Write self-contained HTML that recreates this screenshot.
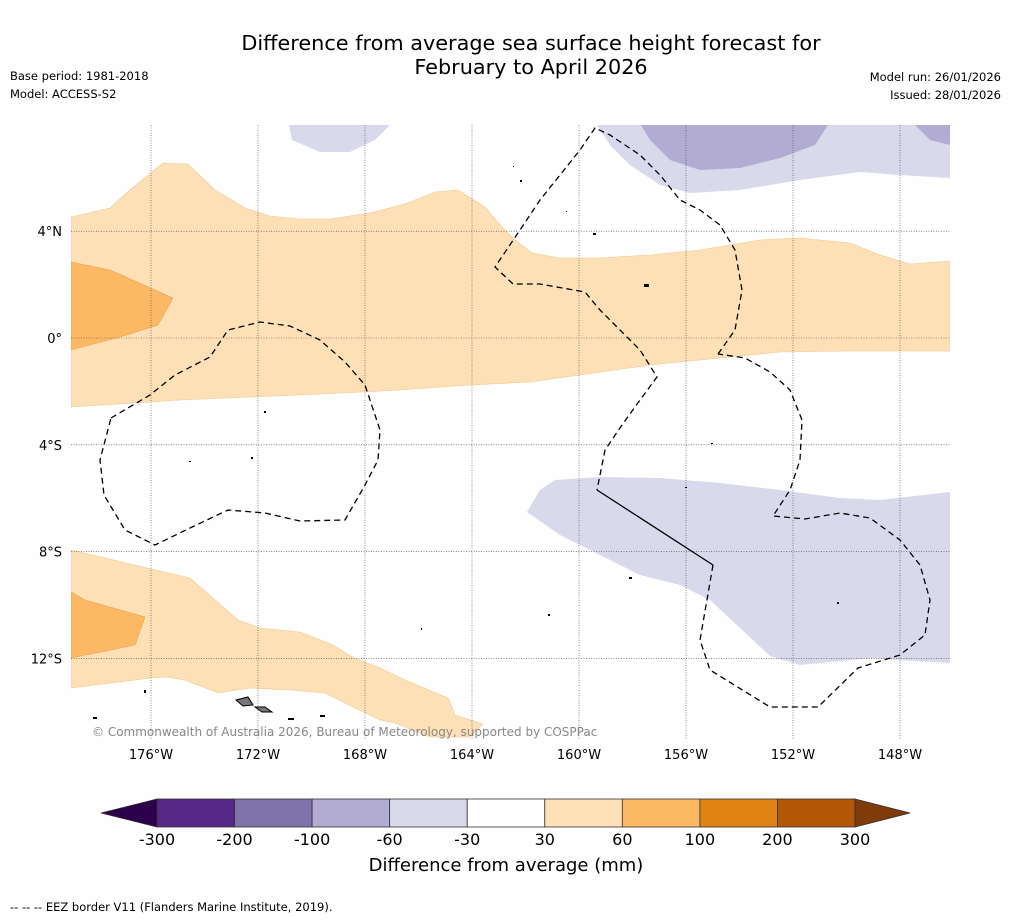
<!DOCTYPE html>
<html><head><meta charset="utf-8">
<style>
html,body{margin:0;padding:0;background:#fff;}
body{width:1011px;height:919px;overflow:hidden;font-family:"Liberation Sans","DejaVu Sans",sans-serif;}
svg text{font-family:"DejaVu Sans","Liberation Sans",sans-serif;}
</style></head>
<body>
<svg id="chart" width="1011" height="919" viewBox="0 0 1011 919" xmlns="http://www.w3.org/2000/svg">
<rect width="1011" height="919" fill="#fefefe"/>
<text x="531" y="50" font-size="20.8" text-anchor="middle" fill="#000">Difference from average sea surface height forecast for</text>
<text x="531" y="74" font-size="20.8" text-anchor="middle" fill="#000">February to April 2026</text>
<text x="10" y="80" font-size="11.5">Base period: 1981-2018</text>
<text x="10" y="98" font-size="11.5">Model: ACCESS-S2</text>
<text x="1001" y="81" font-size="11.5" text-anchor="end">Model run: 26/01/2026</text>
<text x="1001" y="99" font-size="11.5" text-anchor="end">Issued: 28/01/2026</text>

<g>
<clipPath id="mc"><rect x="71" y="125" width="879" height="615"/></clipPath>
<g clip-path="url(#mc)">
<polygon fill="#fee0b6" stroke="#f0c890" stroke-width="0.6" points="71,217 110,208 130,190 163,163 188,164 215,190 245,208 270,216 300,219 330,219 370,213 405,204 435,192 458,190 485,207 500,225 515,240 532,253 560,258 600,258 650,255 700,250 760,240 800,238 850,243 880,255 910,264 950,261 950,351 850,351 780,352 700,360 650,365 580,375 530,382 470,385 400,390 320,394 250,397 180,400 71,407"/>
<polygon fill="#fdb863" stroke="#eaa050" stroke-width="0.6" points="71,262 110,270 173,298 158,325 120,337 71,350"/>
<polygon fill="#fee0b6" stroke="#f0c890" stroke-width="0.6" points="71,550 160,571 190,578 215,600 238,620 260,628 300,632 333,645 354,658 378,667 405,680 448,698 455,715 483,724 470,737 430,737 395,723 380,720 355,708 325,693 290,690 250,688 218,693 185,680 165,677 150,678 71,688"/>
<polygon fill="#fdb863" stroke="#eaa050" stroke-width="0.6" points="71,592 85,600 145,617 135,645 71,658"/>
<polygon fill="#d8daeb" points="527,512 540,490 555,480 600,477 660,478 720,483 780,490 840,498 880,500 950,492 950,663 870,658 800,665 770,656 740,628 710,600 680,585 640,575 590,550 560,535"/>
<polygon fill="#d8daeb" points="289,125 292,140 320,152 350,152 375,140 390,125"/>
<polygon fill="#d8daeb" points="597,125 610,145 630,165 660,185 690,193 740,190 800,180 860,172 900,175 950,178 950,125"/>
<polygon fill="#b2abd2" points="641,125 650,140 670,160 700,170 740,168 780,158 815,145 828,125"/>
<polygon fill="#b2abd2" points="915,125 930,140 950,145 950,125"/>
</g>
<g id="grid" stroke="#444" stroke-width="0.6" stroke-dasharray="1,1.5"></g>
<g fill="none" stroke="#000" stroke-width="1.3" stroke-dasharray="6,4">
<polyline points="718,354 735,330 742,290 735,250 720,225 700,210 680,200 660,175 640,155 610,135 595,128 580,150 560,175 540,200 520,230 495,267 513,284 540,284 585,292 600,310 620,330 640,350 657,377 640,400 622,425 605,450 597,490"/>
<polyline points="713,565 700,640 710,670 770,707 818,707 858,668 900,655 925,635 930,600 920,565 900,540 870,518 840,513 805,519 773,516 790,490 800,460 802,420 790,390 770,372 745,358 718,354"/>
<polyline points="111,418 150,395 175,375 210,357 228,330 260,322 290,326 320,340 345,362 365,385 380,430 378,460 365,485 345,520 300,521 265,513 228,510 190,528 155,545 125,530 104,495 100,460 111,418"/>
</g>
<polyline points="597,490 713,565" fill="none" stroke="#000" stroke-width="1.3"/>
<g fill="#000">
<polygon points="236,700 248,697 253,705 243,706" fill="#777" stroke="#000" stroke-width="1"/>
<polygon points="255,707 265,707 272,712 262,712" fill="#777" stroke="#000" stroke-width="1"/>
<rect x="593" y="233" width="3" height="2"/><rect x="644" y="284" width="5" height="3"/>
<rect x="264" y="411" width="2" height="2"/><rect x="251" y="457" width="2" height="2"/>
<rect x="189" y="461" width="2" height="1"/><rect x="711" y="443" width="2" height="1"/>
<rect x="629" y="577" width="3" height="2"/><rect x="548" y="614" width="2" height="2"/>
<rect x="144" y="690" width="2" height="3"/><rect x="288" y="718" width="6" height="2"/>
<rect x="93" y="717" width="4" height="2"/><rect x="320" y="715" width="5" height="2"/>
<rect x="421" y="628" width="1" height="2"/><rect x="685" y="487" width="2" height="1"/>
<rect x="837" y="602" width="2" height="2"/><rect x="513" y="166" width="1" height="1"/>
<rect x="520" y="180" width="2" height="2"/><rect x="566" y="211" width="1" height="1"/>
</g>
<g id="ticklabels" font-size="13" fill="#000"></g>
<text x="92" y="736" font-size="12" fill="#888">© Commonwealth of Australia 2026, Bureau of Meteorology, supported by COSPPac</text>
</g>

<g id="colorbar"></g>
<text x="506" y="871" font-size="18" text-anchor="middle">Difference from average (mm)</text>
<text x="10" y="911" font-size="11.5">--  --  -- EEZ border V11 (Flanders Marine Institute, 2019).</text>
</svg>
<script>
const lonTicks = [-176,-172,-168,-164,-160,-156,-152,-148];
const latTicks = [4,0,-4,-8,-12];
const levels = [-300,-200,-100,-60,-30,30,60,100,200,300];
const levelColors = ["#542788","#8073ac","#b2abd2","#d8daeb","#ffffff","#fee0b6","#fdb863","#e08214","#b35806"];
const extColors = ["#2d004b","#7f3b08"];
const NS="http://www.w3.org/2000/svg";
const xLon = lon => 151 + (lon + 176) * 26.75;
const yLat = lat => 338 - lat * 26.7;
const grid=document.getElementById('grid'), tl=document.getElementById('ticklabels');
function mk(tag,attrs,parent){const e=document.createElementNS(NS,tag);for(const k in attrs)e.setAttribute(k,attrs[k]);parent.appendChild(e);return e;}
lonTicks.forEach(l=>{
  const x=xLon(l);
  const g=mk('line',{x1:x,x2:x,y1:125,y2:740},grid);
  
  
  const t=mk('text',{x:x,y:759,'text-anchor':'middle'},tl);
  
  
  t.textContent=Math.abs(l)+'°W';
});
latTicks.forEach(l=>{
  const y=yLat(l);
  const g=mk('line',{x1:71,x2:950,y1:y,y2:y},grid);
  
  
  const t=mk('text',{x:62,y:y+5,'text-anchor':'end'},tl);
  
  
  t.textContent=l===0?'0°':Math.abs(l)+'°'+(l>0?'N':'S');
});
const cb=document.getElementById('colorbar');
const cbX0=157, cbX1=855, cbY=799, cbH=28;
const segW=(cbX1-cbX0)/(levels.length-1);
const xi=i=>cbX0+i*segW;
levelColors.forEach((c,i)=>{
  const r=mk('rect',{x:xi(i),y:cbY,width:segW,height:cbH,fill:c,stroke:'#333','stroke-width':0.8},cb);
  
  
});
const lt=mk('polygon',{points:`${cbX0},${cbY} ${cbX0},${cbY+cbH} 101,${cbY+cbH/2}`,fill:extColors[0],stroke:'#333','stroke-width':0.8},cb);


const rt=mk('polygon',{points:`${cbX1},${cbY} ${cbX1},${cbY+cbH} 910,${cbY+cbH/2}`,fill:extColors[1],stroke:'#333','stroke-width':0.8},cb);


levels.forEach((v,i)=>{
  const t=mk('text',{x:xi(i),y:845,'text-anchor':'middle','font-size':16},cb);
  
  
  t.textContent=v;
});
</script>
</body></html>
